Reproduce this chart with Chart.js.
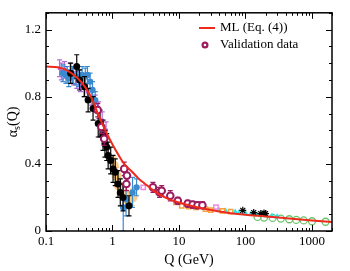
<!DOCTYPE html>
<html>
<head>
    <title>alpha_s(Q)</title>
    <script src="https://cdn.jsdelivr.net/npm/chart.js"></script>
    <style>
        body { margin: 0; background: #fff; }
        #wrap { width: 350px; height: 271px; }
    </style>
</head>
<body>
    <div id="wrap"><canvas id="chart" width="350" height="271"></canvas></div>

    <script>
        // ML curve, Eq. (4)
        const mlQ = [0.1, 0.15, 0.2, 0.3, 0.4, 0.5, 0.6, 0.7, 0.8, 0.9, 1.0, 1.2, 1.5, 2, 2.5, 3, 4, 5, 7, 10, 15, 20, 30, 50, 100, 200, 500, 1000, 2000];
        const mlA = [0.98, 0.975, 0.96, 0.91, 0.85, 0.78, 0.70, 0.64, 0.59, 0.55, 0.515, 0.46, 0.40, 0.35, 0.31, 0.285, 0.245, 0.22, 0.19, 0.17, 0.15, 0.138, 0.125, 0.11, 0.097, 0.087, 0.073, 0.063, 0.054];

        // validation data (dark magenta open circles)
        const valQ = [0.6, 0.68, 0.75, 1.5, 1.65, 1.62, 4.06, 5.1, 5.5, 7.4, 9.6, 13.5, 16, 19, 22.5];
        const valA = [0.72, 0.62, 0.55, 0.37, 0.33, 0.28, 0.26, 0.23, 0.24, 0.21, 0.18, 0.163, 0.157, 0.153, 0.153];
        const valE = [0.04, 0.04, 0.04, 0.04, 0.04, 0.04, 0.03, 0.03, 0.03, 0.03, 0.02, 0.02, 0.02, 0.02, 0.02];

        // black filled circles
        const blkQ = [0.235, 0.29, 0.32, 0.38, 0.43, 0.51, 0.61, 0.65, 0.72, 0.77, 0.82, 0.86, 0.94, 1.02, 1.1, 1.21, 1.31, 1.44, 1.77];
        const blkA = [0.94, 0.98, 0.90, 0.86, 0.78, 0.73, 0.64, 0.64, 0.57, 0.52, 0.50, 0.45, 0.42, 0.37, 0.35, 0.28, 0.23, 0.20, 0.15];
        const blkE = [0.06, 0.07, 0.06, 0.06, 0.07, 0.07, 0.08, 0.08, 0.09, 0.08, 0.08, 0.08, 0.08, 0.08, 0.08, 0.08, 0.08, 0.08, 0.06];

        // purple
        const purQ = [0.16, 0.17, 0.19, 0.21, 0.23, 0.26, 0.29, 0.33, 0.37, 0.42, 0.48, 0.55, 0.62, 0.7, 0.8];
        const purA = [0.97, 0.95, 0.96, 0.93, 0.95, 0.92, 0.90, 0.88, 0.85, 0.83, 0.80, 0.76, 0.72, 0.66, 0.60];
        const purE = [0.05, 0.05, 0.05, 0.05, 0.05, 0.05, 0.05, 0.05, 0.05, 0.05, 0.05, 0.05, 0.05, 0.05, 0.05];

        // blue
        const bluQ = [0.18, 0.2, 0.22, 0.25, 0.28, 0.31, 0.35, 0.39, 0.42, 0.46, 0.5, 0.55, 1.45, 1.6, 2.0, 2.3];
        const bluA = [0.94, 0.93, 0.91, 0.93, 0.92, 0.91, 0.93, 0.92, 0.93, 0.89, 0.84, 0.78, 0.14, 0.19, 0.23, 0.26];
        const bluE = [0.05, 0.05, 0.05, 0.05, 0.05, 0.05, 0.05, 0.05, 0.05, 0.05, 0.05, 0.05, 0.14, 0.1, 0.09, 0.05];

        // light orange
        const lorQ = [1.05, 1.15, 1.25, 1.6, 1.75, 2.0];
        const lorA = [0.39, 0.33, 0.27, 0.22, 0.18, 0.2];
        const lorE = [0.05, 0.05, 0.05, 0.05, 0.05, 0.05];

        // pink open squares
        const pnkQ = [2.9, 36];
        const pnkA = [0.26, 0.143];

        // orange open squares
        const orgQ = [9, 11, 14, 18, 25, 30, 45, 60];
        const orgA = [0.17, 0.15, 0.145, 0.14, 0.13, 0.125, 0.12, 0.115];

        // cyan
        const cyaQ = [40, 50, 60, 70, 80, 100, 120, 150, 180, 200, 250, 300];
        const cyaA = [0.125, 0.12, 0.115, 0.113, 0.11, 0.105, 0.1, 0.098, 0.095, 0.093, 0.09, 0.087];

        // black stars
        const starQ = [91, 133, 170, 190, 200];
        const starA = [0.123, 0.11, 0.104, 0.107, 0.104];

        // green open circles
        const grnQ = [152, 190, 256, 340, 455, 580, 750, 1000, 1600];
        const grnA = [0.084, 0.08, 0.078, 0.074, 0.07, 0.066, 0.063, 0.058, 0.055];

        const yTicks = [0, 0.4, 0.8, 1.2];

        function pts(qs, as) {
            return qs.map((q, i) => ({ x: q, y: as[i] }));
        }

        const errorBars = {
            id: 'errorBars',
            beforeDatasetDraw(chart, args) {
                const ds = chart.data.datasets[args.index];
                if (!ds.errs) return;
                const xs = chart.scales.x, ys = chart.scales.y, ctx = chart.ctx, a = chart.chartArea;
                ctx.save();
                ctx.beginPath();
                ctx.rect(a.left, a.top, a.right - a.left, a.bottom - a.top);
                ctx.clip();
                ctx.strokeStyle = ds.barColor;
                ctx.lineWidth = 1.2;
                ds.data.forEach((p, i) => {
                    const e = ds.errs[i];
                    const px = xs.getPixelForValue(p.x);
                    const y1 = ys.getPixelForValue(Math.max(p.y - e, 0));
                    const y2 = ys.getPixelForValue(p.y + e);
                    ctx.beginPath();
                    ctx.moveTo(px, y1); ctx.lineTo(px, y2);
                    ctx.moveTo(px - 2.5, y1); ctx.lineTo(px + 2.5, y1);
                    ctx.moveTo(px - 2.5, y2); ctx.lineTo(px + 2.5, y2);
                    ctx.stroke();
                });
                ctx.restore();
            }
        };

        const frame = {
            id: 'frame',
            afterDraw(chart) {
                const ctx = chart.ctx, a = chart.chartArea;
                const xs = chart.scales.x, ys = chart.scales.y;
                ctx.save();
                ctx.strokeStyle = '#000';
                ctx.lineWidth = 1.5;
                ctx.strokeRect(a.left, a.top, a.right - a.left, a.bottom - a.top);
                ctx.lineWidth = 1;
                ctx.beginPath();
                // x ticks, inward top and bottom
                for (let k = -1; k <= 3; k++) {
                    for (let m = 1; m <= 9; m++) {
                        const v = m * Math.pow(10, k);
                        if (v < 0.1 || v > 2000) continue;
                        const px = Math.round(xs.getPixelForValue(v)) + 0.5;
                        const len = m === 1 ? 6 : 3;
                        ctx.moveTo(px, a.bottom); ctx.lineTo(px, a.bottom - len);
                        ctx.moveTo(px, a.top); ctx.lineTo(px, a.top + len);
                    }
                }
                // y ticks, inward left and right
                for (let i = 0; i <= 13; i++) {
                    const v = i / 10;
                    const py = Math.round(ys.getPixelForValue(v)) + 0.5;
                    const len = i % 4 === 0 ? 6 : 3;
                    ctx.moveTo(a.left, py); ctx.lineTo(a.left + len, py);
                    ctx.moveTo(a.right, py); ctx.lineTo(a.right - len, py);
                }
                ctx.stroke();

                // y axis title: alpha_s(Q)
                ctx.fillStyle = '#000';
                ctx.translate(13, (a.top + a.bottom) / 2);
                ctx.rotate(-Math.PI / 2);
                ctx.textBaseline = 'middle';
                ctx.font = '14px "Liberation Serif"';
                const w1 = ctx.measureText('α').width;
                ctx.font = '10px "Liberation Serif"';
                const w2 = ctx.measureText('s').width;
                ctx.font = '14px "Liberation Serif"';
                const w3 = ctx.measureText('(Q)').width;
                let x0 = -(w1 + w2 + w3) / 2;
                ctx.fillText('α', x0, 0);
                ctx.font = '10px "Liberation Serif"';
                ctx.fillText('s', x0 + w1, 4);
                ctx.font = '14px "Liberation Serif"';
                ctx.fillText('(Q)', x0 + w1 + w2, 0);
                ctx.restore();

                // legend
                ctx.save();
                ctx.font = '13px "Liberation Serif"';
                ctx.textBaseline = 'middle';
                ctx.fillStyle = '#000';
                ctx.strokeStyle = '#ee2a1d';
                ctx.lineWidth = 2;
                ctx.beginPath();
                ctx.moveTo(199, 28); ctx.lineTo(215, 28);
                ctx.stroke();
                ctx.fillText('ML (Eq. (4))', 220, 28);
                ctx.strokeStyle = '#9b1b5e';
                ctx.lineWidth = 2.2;
                ctx.beginPath();
                ctx.arc(205, 45, 2.4, 0, Math.PI * 2);
                ctx.fillStyle = '#fff';
                ctx.fill();
                ctx.stroke();
                ctx.fillStyle = '#000';
                ctx.fillText('Validation data', 220, 45);
                ctx.restore();
            }
        };

        Chart.defaults.font.family = '"Liberation Serif", serif';
        Chart.defaults.font.size = 13;
        Chart.defaults.color = '#000';

        new Chart(document.getElementById('chart'), {
            type: 'scatter',
            data: {
                datasets: [
                    { label: 'ML (Eq. (4))', data: pts(mlQ, mlA), showLine: true, borderColor: '#ee2a1d', borderWidth: 2,
                      pointRadius: 0, cubicInterpolationMode: 'monotone', order: 0 },
                    { label: 'Validation data', data: pts(valQ, valA), errs: valE, barColor: '#9b1b5e',
                      pointStyle: 'circle', pointRadius: 3.3, borderWidth: 2, borderColor: '#9b1b5e', backgroundColor: '#fff', order: 1 },
                    { label: 'black', data: pts(blkQ, blkA), errs: blkE, barColor: '#000',
                      pointRadius: 3.5, borderWidth: 0, backgroundColor: '#000', order: 2 },
                    { label: 'stars', data: pts(starQ, starA), pointStyle: 'star', pointRadius: 3.5, borderWidth: 1.2,
                      borderColor: '#000', order: 3 },
                    { label: 'blue', data: pts(bluQ, bluA), errs: bluE, barColor: '#3a8ad0',
                      pointRadius: 3.2, borderWidth: 0, backgroundColor: '#3a8ad0', order: 4 },
                    { label: 'purple', data: pts(purQ, purA), errs: purE, barColor: '#b46ad6',
                      pointStyle: 'rect', pointRadius: 2.5, borderWidth: 0, backgroundColor: '#b46ad6', order: 5 },
                    { label: 'light orange', data: pts(lorQ, lorA), errs: lorE, barColor: '#f8c67a',
                      pointRadius: 5, borderWidth: 0, backgroundColor: 'rgba(248,198,122,0.85)', order: 6 },
                    { label: 'pink', data: pts(pnkQ, pnkA), pointStyle: 'rect', pointRadius: 3, borderWidth: 1.5,
                      borderColor: '#ee88e0', backgroundColor: '#fff', order: 7 },
                    { label: 'orange', data: pts(orgQ, orgA), pointStyle: 'rect', pointRadius: 3, borderWidth: 1.5,
                      borderColor: '#f5a23a', backgroundColor: '#fff', order: 8 },
                    { label: 'cyan', data: pts(cyaQ, cyaA), pointStyle: 'triangle', pointRadius: 3.5, borderWidth: 0,
                      backgroundColor: '#2ee6e6', order: 9 },
                    { label: 'green', data: pts(grnQ, grnA), pointStyle: 'circle', pointRadius: 3.5, borderWidth: 1.3,
                      borderColor: '#6cc36c', backgroundColor: 'rgba(255,255,255,0)', order: 10 }
                ]
            },
            options: {
                responsive: false,
                animation: false,
                layout: { padding: { left: 0, right: 18, top: 10, bottom: 2 } },
                plugins: { legend: { display: false }, tooltip: { enabled: false } },
                scales: {
                    x: {
                        type: 'logarithmic',
                        min: 0.1,
                        max: 2000,
                        grid: { display: false, drawTicks: false },
                        border: { display: false },
                        afterFit(scale) { scale.height = 38; },
                        ticks: {
                            autoSkip: false,
                            maxRotation: 0,
                            padding: 3,
                            callback(v) {
                                const l = Math.log10(v);
                                return Math.abs(l - Math.round(l)) < 1e-6 ? String(v) : '';
                            }
                        },
                        title: { display: true, text: 'Q (GeV)', font: { size: 14 }, padding: { top: 0, bottom: 0 } }
                    },
                    y: {
                        min: 0,
                        max: 1.3,
                        grid: { display: false, drawTicks: false },
                        border: { display: false },
                        afterFit(scale) { scale.width = 46; },
                        afterBuildTicks(scale) { scale.ticks = yTicks.map(v => ({ value: v })); },
                        ticks: { padding: 5 }
                    }
                }
            },
            plugins: [errorBars, frame]
        });
    </script>
</body>
</html>
